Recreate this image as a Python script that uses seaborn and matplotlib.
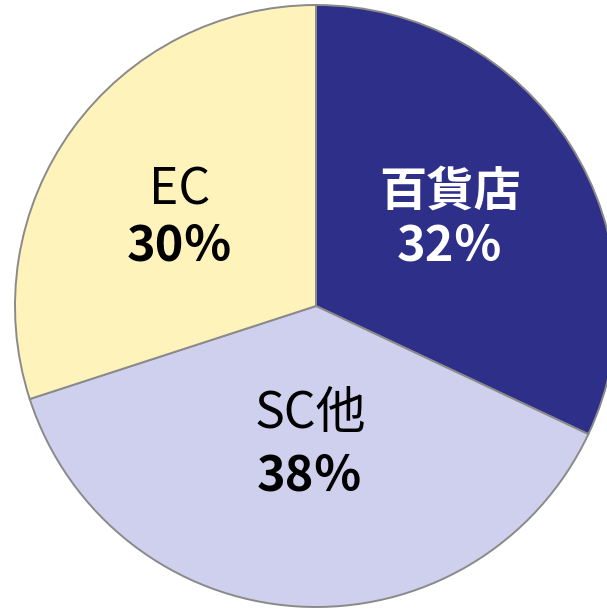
import matplotlib
matplotlib.use("Agg")
import matplotlib.pyplot as plt
import seaborn as sns

# Chart data
categories = ["百貨店", "SC他", "EC"]
shares = [32, 38, 30]
colors = ["#2E2F88", "#CFCFEE", "#FFF3BC"]
text_colors = ["white", "black", "black"]
name_bold = [True, False, False]

sns.set_theme(style="white")
plt.rcParams['font.family'] = ['Noto Sans CJK JP', 'DejaVu Sans']

fig = plt.figure(figsize=(6.07, 6.10), dpi=100)
ax = fig.add_axes([15 / 607, 3 / 610, 602 / 607, 602 / 610])

wedges, _ = ax.pie(
    shares, colors=colors, startangle=90, counterclock=False,
    wedgeprops=dict(edgecolor="#8a8a8a", linewidth=1.4),
)
ax.set_xlim(-1.0, 1.0)
ax.set_ylim(-1.0, 1.0)
ax.set_aspect("equal")
ax.axis("off")

# Label positions (in pie radius units)
name_pos = [(0.445, 0.38), (-0.02, -0.36), (-0.452, 0.385)]
pct_pos = [(0.445, 0.2), (-0.02, -0.565), (-0.452, 0.2)]

for i, cat in enumerate(categories):
    ax.text(*name_pos[i], cat, ha="center", va="center",
            fontsize=34 if name_bold[i] else 36,
            color=text_colors[i], fontweight="bold" if name_bold[i] else "normal")
    ax.text(*pct_pos[i], f"{shares[i]}％", ha="center", va="center", fontsize=35,
            color=text_colors[i], fontweight="bold")

fig.savefig("out.png", dpi=100)
